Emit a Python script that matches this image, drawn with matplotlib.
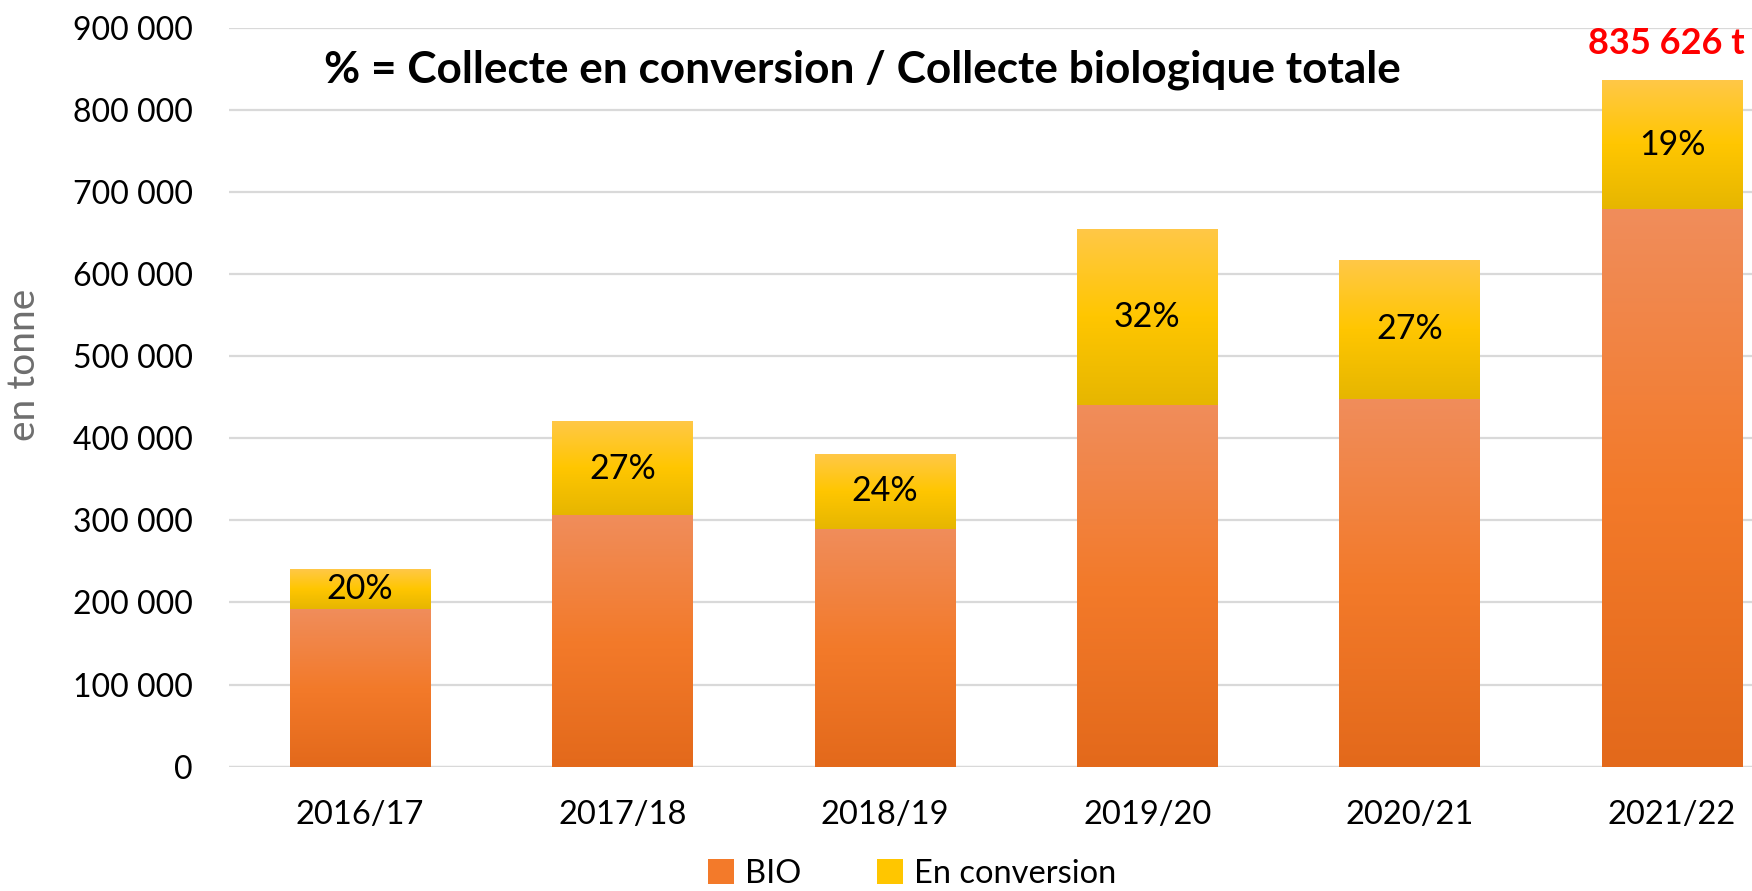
import numpy as np
import matplotlib
matplotlib.use("Agg")
from matplotlib import pyplot as plt
from matplotlib.colors import LinearSegmentedColormap
from matplotlib.patches import Patch

plt.rcParams['font.family'] = ['Lato', 'DejaVu Sans']

seasons = ["2016/17", "2017/18", "2018/19", "2019/20", "2020/21", "2021/22"]
bio = [192000, 306000, 290000, 441000, 448000, 679000]
conversion = [48000, 114000, 91000, 214000, 169000, 156626]
pct_labels = ["20%", "27%", "24%", "32%", "27%", "19%"]
total_label = "835 626 t"
yticks = [0, 100000, 200000, 300000, 400000, 500000, 600000, 700000, 800000, 900000]

bio_cmap = LinearSegmentedColormap.from_list("bio", ["#E3691B", "#F37A2A", "#F08D5B"])
conv_cmap = LinearSegmentedColormap.from_list("conv", ["#E6B600", "#FFC600", "#FFC847"])

fig = plt.figure(figsize=(17.52, 8.91), dpi=100)
ax = fig.add_axes([229/1752, 124.3/891, 1523/1752, 739/891])

x = np.arange(len(seasons))
w = 0.535
bars_bio = ax.bar(x, bio, w, color="#F37A2A", zorder=2)
bars_conv = ax.bar(x, conversion, w, bottom=bio, color="#FFC600", zorder=2)

# vertical gradient fill for each bar
grad = np.linspace(0, 1, 256).reshape(-1, 1)
for bars, cmap in ((bars_bio, bio_cmap), (bars_conv, conv_cmap)):
    for b in bars:
        x0, y0 = b.get_x(), b.get_y()
        ax.imshow(grad, cmap=cmap, origin="lower", aspect="auto", zorder=3,
                  extent=[x0, x0 + b.get_width(), y0, y0 + b.get_height()])

for i in range(len(seasons)):
    ax.text(x[i], bio[i] + conversion[i] / 2, pct_labels[i], ha="center", va="center",
            fontsize=24.5, color="black", zorder=4)

ax.text(x[-1] - 0.02, bio[-1] + conversion[-1] + 45000, total_label, ha="center", va="center",
        fontsize=26, fontweight="bold", color="#FF0000", zorder=4)

ax.text(862/1752, 1 - 70/891, "% = Collecte en conversion / Collecte biologique totale",
        transform=fig.transFigure, ha="center", va="center", fontsize=31.8, fontweight="bold")

ax.set_xlim(-0.5, 5.305)
ax.set_ylim(0, 900000)
ax.set_yticks(yticks)
ax.set_yticklabels([f"{v:,}".replace(",", " ") for v in yticks], fontsize=23)
ax.set_xticks(x)
ax.set_xticklabels(seasons, fontsize=23.5)
ax.tick_params(axis="both", length=0)
ax.tick_params(axis="y", pad=26)
ax.tick_params(axis="x", pad=24)
ax.grid(axis="y", color="#D9D9D9", linewidth=1.6, zorder=0)
for s in ax.spines.values():
    s.set_visible(False)
ax.axhline(0, color="#D9D9D9", linewidth=1.6, zorder=1)

fig.text(24/1752, 1 - 365/891, "en tonne", rotation=90, ha="center", va="center",
         fontsize=28, color="#6E6E6E")

handles = [Patch(facecolor="#F37A2A"), Patch(facecolor="#FFC600")]
fig.legend(handles, ["BIO", "En conversion"], loc="center", bbox_to_anchor=(912/1752, 1 - 874/891),
           ncol=2, frameon=False, fontsize=23.5, handlelength=0.8, handleheight=0.8,
           handletextpad=0.35, columnspacing=2.3, borderpad=0)

fig.savefig("out.png", dpi=100)
